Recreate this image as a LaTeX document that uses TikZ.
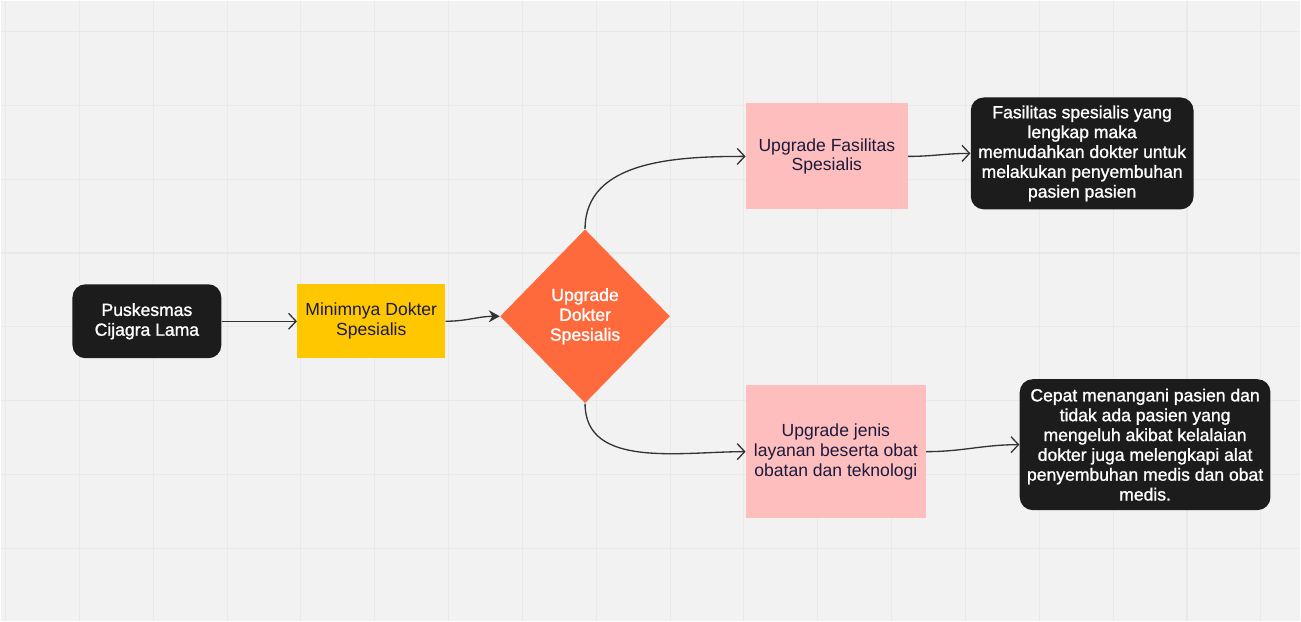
\documentclass[tikz,border=0pt]{standalone}
\usepackage{fontspec}
\setmainfont{Liberation Sans}
\newfontfamily\hurufputih[FakeBold=1.2]{Liberation Sans}
\usepackage{xcolor}
\usetikzlibrary{shapes, arrows.meta, positioning}

\definecolor{latar}{HTML}{F2F2F2}
\definecolor{garis}{HTML}{E9E9E9}
\definecolor{hitam}{HTML}{1C1C1C}
\definecolor{kuning}{HTML}{FFC700}
\definecolor{oranye}{HTML}{FF6A3D}
\definecolor{merahmuda}{HTML}{FFBEBE}
\definecolor{biru}{HTML}{1B1A3D}
\definecolor{panah}{HTML}{333333}

\tikzset{
  kotakhitam/.style={rectangle, rounded corners=0.26cm, fill=hitam, text=white, align=center,
    font=\hurufputih\fontsize{10}{11.3}\selectfont, inner sep=0},
  kotakwarna/.style={rectangle, text=biru, align=center, font=\fontsize{10}{11.3}\selectfont, inner sep=0},
  hubung/.style={draw=panah, line width=0.75pt, -{Straight Barb[length=1.5mm,width=3.2mm]}}
}

\begin{document}
\begin{tikzpicture}[x=0.02cm, y=-0.02cm]
  % Latar dan garis bantu
  \fill[latar] (0,0) rectangle (1301,621);
  \foreach \i in {0,...,17} {
    \draw[garis, line width=0.6pt] (5+73.9*\i,0) -- (5+73.9*\i,621);
  }
  \foreach \j in {0,...,7} {
    \draw[garis, line width=0.6pt] (0,31+73.9*\j) -- (1301,31+73.9*\j);
  }

  % Kotak
  \node[kotakhitam, minimum width=2.98cm, minimum height=1.48cm] (puskesmas) at (146.5,321)
    {Puskesmas\\Cijagra Lama};
  \node[kotakwarna, fill=kuning, minimum width=2.96cm, minimum height=1.48cm] (minim) at (371,321)
    {Minimnya Dokter\\Spesialis};
  \node[diamond, fill=oranye, text=white, align=center, inner sep=0, aspect=1,
    minimum width=3.4cm, minimum height=3.48cm, font=\hurufputih\fontsize{10}{11.3}\selectfont] (upgrade) at (585,316)
    {Upgrade\\Dokter\\Spesialis};
  \node[kotakwarna, fill=merahmuda, minimum width=3.24cm, minimum height=2.12cm] (fasilitas) at (827,156)
    {Upgrade Fasilitas\\Spesialis};
  \node[kotakhitam, minimum width=4.46cm, minimum height=2.24cm] (lengkap) at (1082.5,153)
    {Fasilitas spesialis yang\\lengkap maka\\memudahkan dokter untuk\\melakukan penyembuhan\\pasien pasien};
  \node[kotakwarna, fill=merahmuda, minimum width=3.6cm, minimum height=2.66cm] (layanan) at (836,451.5)
    {Upgrade jenis\\layanan beserta obat\\obatan dan teknologi};
  \node[kotakhitam, minimum width=5.02cm, minimum height=2.62cm] (cepat) at (1145.5,444.5)
    {Cepat menangani pasien dan\\tidak ada pasien yang\\mengeluh akibat kelalaian\\dokter juga melengkapi alat\\penyembuhan medis dan obat\\medis.};

  % Panah
  \draw[hubung] (puskesmas.east) -- (minim.west);
  \draw[draw=panah, line width=0.75pt, -{Stealth[length=2.2mm,width=2.4mm]}] (minim.east) to[out=0, in=180] (upgrade.west);
  \draw[hubung] (upgrade.north) to[out=90, in=180] (fasilitas.west);
  \draw[hubung] (upgrade.south) to[out=-90, in=180] (layanan.west);
  \draw[hubung] (fasilitas.east) to[out=0, in=180] (lengkap.west);
  \draw[hubung] (layanan.east) to[out=0, in=180] (cepat.west);
\end{tikzpicture}
\end{document}
